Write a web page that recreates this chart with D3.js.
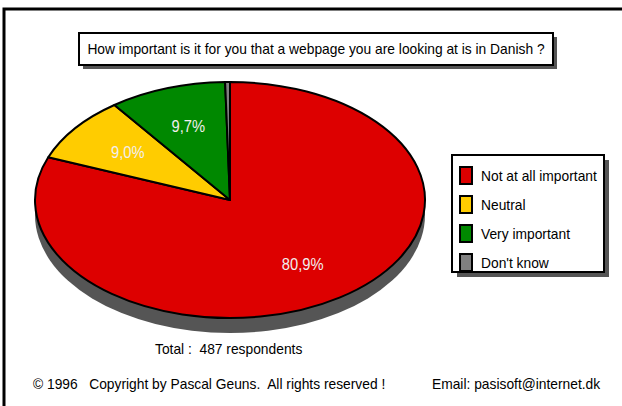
<!DOCTYPE html>
<html>
<head>
<meta charset="utf-8">
<script src="https://cdn.jsdelivr.net/npm/d3@7"></script>
<style>
  body { margin: 0; background: #fff; overflow: hidden; }
  svg { display: block; }
  svg text { font-family: "Liberation Sans", Arial, sans-serif; white-space: pre; }
</style>
</head>
<body>
<div id="chart"></div>
<script>
// data
const categories = ["Not at all important", "Neutral", "Very important", "Don't know"]
const values = [80.9, 9.0, 9.7, 0.4]
const labels = ["80,9%", "9,0%", "9,7%", ""]
const colors = ["#dd0000", "#ffcc00", "#008800", "#808080"]
const title = "How important is it for you that a webpage you are looking at is in Danish ?"
const totalText = "Total :  487 respondents"
const copyright = "\u00a9 1996   Copyright by Pascal Geuns.  All rights reserved !"
const email = "Email: pasisoft@internet.dk"

const width = 622, height = 406
const svg = d3.select('#chart').append('svg')
    .attr('width', width)
    .attr('height', height)

// the original font is a narrow one: squeeze the text horizontally
const narrow = 0.92
const squeeze = sel => sel.each(function () {
    const len = this.getComputedTextLength()
    if (len > 0) {
        d3.select(this)
            .attr('textLength', len * narrow)
            .attr('lengthAdjust', 'spacingAndGlyphs')
    }
})

// outer frame (only top and left edges are visible)
svg.append('path')
    .attr('d', `M4,${height + 5}V9H${width + 5}`)
    .attr('fill', 'none')
    .attr('stroke', '#000')
    .attr('stroke-width', 3)

// box with a drop shadow
const shadowBox = (x, y, w, h, off) => {
    svg.append('rect')
        .attr('x', x + off).attr('y', y + off)
        .attr('width', w).attr('height', h)
        .attr('fill', '#555')
    svg.append('rect')
        .attr('x', x).attr('y', y)
        .attr('width', w).attr('height', h)
        .attr('fill', '#fff')
        .attr('stroke', '#000')
        .attr('stroke-width', 2)
}

// title
shadowBox(79, 33, 474, 32, 4)
svg.append('text')
    .attr('x', 79 + 474 / 2).attr('y', 49)
    .attr('dy', '0.35em')
    .attr('text-anchor', 'middle')
    .attr('font-size', 15)
    .attr('fill', '#000')
    .text(title)
    .call(squeeze)

// pie
const cx = 230, cy = 200, rx = 195, ry = 118, depth = 15

// side of the disc
svg.append('ellipse')
    .attr('cx', cx).attr('cy', cy + depth)
    .attr('rx', rx).attr('ry', ry)
    .attr('fill', '#555')

const pie = d3.pie().sort(null).value(d => d)
const arcs = pie(values)
const arc = d3.arc().innerRadius(0).outerRadius(rx)
const labelArc = d3.arc().innerRadius(rx * 0.66).outerRadius(rx * 0.66)

const pieG = svg.append('g')
    .attr('transform', `translate(${cx},${cy}) scale(1,${ry / rx})`)

pieG.selectAll('path')
    .data(arcs)
    .join('path')
    .attr('d', arc)
    .attr('fill', (d, i) => colors[i])
    .attr('stroke', '#000')
    .attr('stroke-width', 2)
    .attr('stroke-linejoin', 'round')
    .attr('vector-effect', 'non-scaling-stroke')

svg.selectAll('text.pct')
    .data(arcs)
    .join('text')
    .attr('class', 'pct')
    .attr('x', d => cx + labelArc.centroid(d)[0])
    .attr('y', d => cy + labelArc.centroid(d)[1] * ry / rx)
    .attr('dy', '0.35em')
    .attr('text-anchor', 'middle')
    .attr('font-size', 16)
    .attr('fill', '#f2eeee')
    .text((d, i) => labels[i])
    .call(squeeze)

// legend
const lx = 452, ly = 155
shadowBox(lx, ly, 152, 117, 5)
const rowY = d3.scalePoint().domain(categories).range([176, 263])
const legend = svg.selectAll('g.legend')
    .data(categories)
    .join('g')
    .attr('class', 'legend')
    .attr('transform', d => `translate(0,${rowY(d)})`)
legend.append('rect')
    .attr('x', 460).attr('y', -9)
    .attr('width', 12).attr('height', 17)
    .attr('fill', (d, i) => colors[i])
    .attr('stroke', '#000')
    .attr('stroke-width', 2)
legend.append('text')
    .attr('x', 481).attr('y', 0)
    .attr('dy', '0.35em')
    .attr('font-size', 15)
    .text(d => d)
    .call(squeeze)

// footer
svg.append('text')
    .attr('x', 155).attr('y', 354)
    .attr('font-size', 15)
    .text(totalText)
    .call(squeeze)
svg.append('text')
    .attr('x', 33).attr('y', 389)
    .attr('font-size', 15)
    .text(copyright)
    .call(squeeze)
svg.append('text')
    .attr('x', 432).attr('y', 389)
    .attr('font-size', 15)
    .text(email)
    .call(squeeze)
</script>
</body>
</html>
